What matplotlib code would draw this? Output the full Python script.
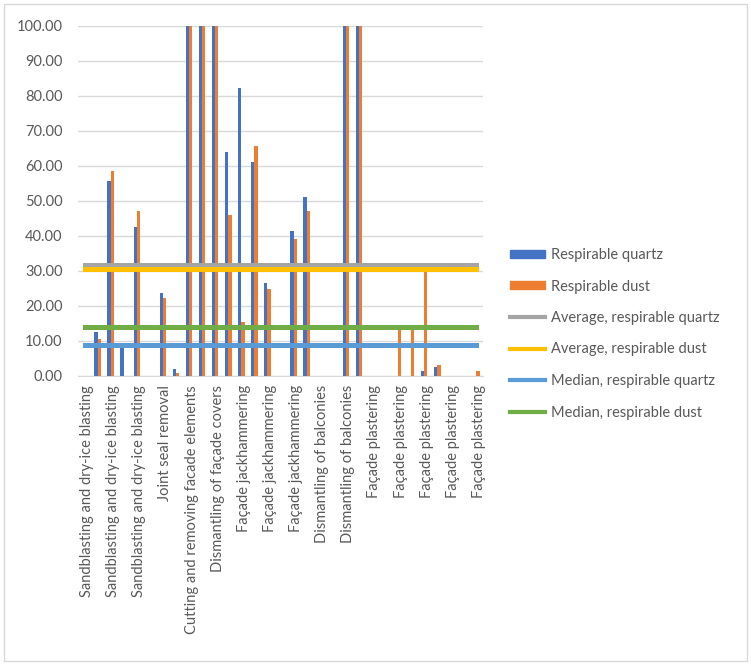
import matplotlib.pyplot as plt
import matplotlib.transforms as mtrans
import numpy as np
from matplotlib.patches import Patch, Rectangle
from matplotlib.lines import Line2D

plt.rcParams['font.family'] = ['Lato', 'DejaVu Sans']

# 31 sampling points, only every second label is shown (as in Excel)
tick_labels = ["Sandblasting and dry-ice blasting",
               "Sandblasting and dry-ice blasting",
               "Sandblasting and dry-ice blasting",
               "Joint seal removal",
               "Cutting and removing facade elements",
               "Dismantling of façade covers",
               "Façade jackhammering",
               "Façade jackhammering",
               "Façade jackhammering",
               "Dismantling of balconies",
               "Dismantling of balconies",
               "Façade plastering",
               "Façade plastering",
               "Façade plastering",
               "Façade plastering",
               "Façade plastering"]

quartz = [0, 12.5, 55.7, 8.9, 42.4, 0, 23.5, 1.9, 100, 100,
          100, 63.8, 82.2, 61.1, 26.4, 0, 41.4, 51.0, 0, 0,
          100, 100, 0, 0, 0, 0, 1.2, 2.3, 0, 0,
          0]
dust = [0, 10.3, 58.4, 0, 47.0, 0, 22.2, 0.6, 100, 100,
        100, 45.9, 15.4, 65.5, 24.6, 0, 39.0, 47.1, 0, 0,
        100, 100, 0, 0, 13.0, 13.0, 29.8, 3.0, 0, 0,
        1.2]

avg_quartz = 31.6
avg_dust = 30.3
med_quartz = 8.7
med_dust = 13.8

c_quartz = '#4472C4'
c_dust = '#ED7D31'
c_avgq = '#A5A5A5'
c_avgd = '#FFC000'
c_medq = '#5B9BD5'
c_medd = '#70AD47'
txt = '#595959'

W, H = 751, 665
fig = plt.figure(figsize=(W/100, H/100), dpi=100)
ax = fig.add_axes([78/W, 1 - 375.5/H, 405/W, 350/H])

x = np.arange(len(quartz))
bw = 0.25
ax.bar(x - bw/2, quartz, bw, color=c_quartz, zorder=2)
ax.bar(x + bw/2, dust, bw, color=c_dust, zorder=2)

xs = [x[0], x[-1]]
lw = 3.6
ax.plot(xs, [avg_quartz]*2, color=c_avgq, lw=lw, zorder=3)
ax.plot(xs, [avg_dust]*2, color=c_avgd, lw=lw, zorder=3)
ax.plot(xs, [med_quartz]*2, color=c_medq, lw=lw, zorder=3)
ax.plot(xs, [med_dust]*2, color=c_medd, lw=lw, zorder=3)

ax.set_xlim(-0.5, len(quartz) - 0.5)
ax.set_ylim(0, 100)
ax.set_yticks(np.arange(0, 101, 10))
ax.yaxis.set_major_formatter(plt.FormatStrFormatter('%.2f'))
ax.set_xticks(x[::2])
ax.set_xticklabels(tick_labels, rotation=90, va='top', ha='center')
ax.tick_params(axis='both', length=0, colors=txt, labelsize=10.5)
ax.tick_params(axis='y', pad=11)
ax.tick_params(axis='x', pad=7)
# nudge the rotated labels a little to the right, like in the original
shift = mtrans.ScaledTranslation(2.5/100, 0, fig.dpi_scale_trans)
for lab in ax.get_xticklabels():
    lab.set_transform(lab.get_transform() + shift)
ax.grid(axis='y', color='#D9D9D9', lw=1, zorder=0)
for s in ['top', 'right', 'left']:
    ax.spines[s].set_visible(False)
ax.spines['bottom'].set_color('#D9D9D9')
ax.spines['bottom'].set_zorder(1)

handles = [Patch(color=c_quartz), Patch(color=c_dust),
           Line2D([], [], color=c_avgq, lw=3),
           Line2D([], [], color=c_avgd, lw=3),
           Line2D([], [], color=c_medq, lw=3),
           Line2D([], [], color=c_medd, lw=3)]
names = ['Respirable quartz', 'Respirable dust',
         'Average, respirable quartz', 'Average, respirable dust',
         'Median, respirable quartz', 'Median, respirable dust']
leg = fig.legend(handles, names, loc='upper left',
                 bbox_to_anchor=(510/W, 1 - 248/H), frameon=False,
                 borderpad=0, borderaxespad=0, fontsize=10.5,
                 handlelength=2.4, handleheight=0.5, handletextpad=0.4,
                 labelspacing=1.2, labelcolor=txt)

# outer chart border
fig.patches.append(Rectangle((4/W, 4/H), 743/W, 657/H, transform=fig.transFigure,
                             fill=False, edgecolor='#D9D9D9', lw=1))

fig.savefig('out.png', dpi=100)
